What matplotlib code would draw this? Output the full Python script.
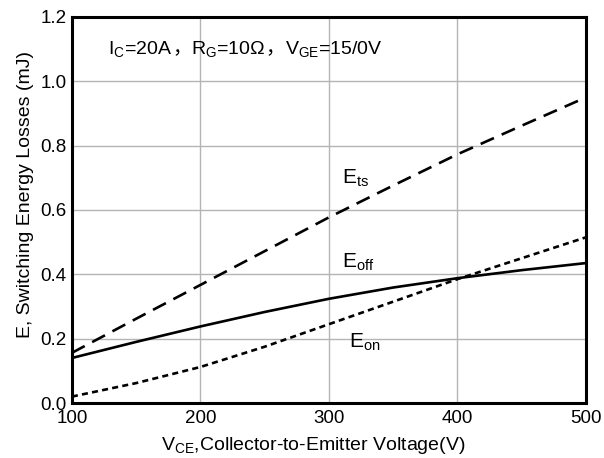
import matplotlib
matplotlib.use("Agg")
import matplotlib.pyplot as plt
import numpy as np
from matplotlib.offsetbox import TextArea, HPacker, AnnotationBbox

plt.rcParams['font.family'] = ['Liberation Sans', 'DejaVu Sans']
plt.rcParams['mathtext.fontset'] = 'custom'
plt.rcParams['mathtext.rm'] = 'Liberation Sans'

# values
vce = [100, 150, 200, 250, 300, 350, 400, 450, 500]
e_ts = [0.156, 0.262, 0.367, 0.472, 0.577, 0.676, 0.773, 0.862, 0.950]
e_off = [0.140, 0.190, 0.238, 0.283, 0.324, 0.359, 0.388, 0.413, 0.435]
e_on = [0.020, 0.062, 0.112, 0.175, 0.245, 0.315, 0.385, 0.450, 0.515]

xticks = [100, 200, 300, 400, 500]
yticks = [0.0, 0.2, 0.4, 0.6, 0.8, 1.0, 1.2]

fig = plt.figure(figsize=(6.04, 4.58), dpi=100)
ax = fig.add_axes([0.119, 0.120, 0.851, 0.843])

lw = 1.9
ax.plot(vce, e_ts, color='black', lw=lw, dashes=(5.5, 3.2))
ax.plot(vce, e_off, color='black', lw=lw)
ax.plot(vce, e_on, color='black', lw=lw, dashes=(2.3, 1.6))

ax.set_xlim(100, 500)
ax.set_ylim(0, 1.2)
ax.set_xticks(xticks)
ax.set_yticks(yticks)
ax.set_yticklabels(['%.1f' % v for v in yticks])
ax.grid(True, color='#b4b4b4', lw=1.0)
ax.tick_params(length=0, labelsize=13.5)
ax.tick_params(axis='x', pad=5)
ax.tick_params(axis='y', pad=4)
for s in ax.spines.values():
    s.set_linewidth(2.2)

ax.set_xlabel(r'V$_{\mathregular{CE}}$,Collector-to-Emitter Voltage(V)', fontsize=14)
ax.set_ylabel('E, Switching Energy Losses (mJ)', fontsize=14)
ax.xaxis.set_label_coords(0.469, -0.084)
ax.yaxis.set_label_coords(-0.074, 0.54)

ax.text(310, 0.684, r'E$_{\mathregular{ts}}$', fontsize=15, va='baseline')
ax.text(310, 0.423, r'E$_{\mathregular{off}}$', fontsize=15, va='baseline')
ax.text(316, 0.174, r'E$_{\mathregular{on}}$', fontsize=15, va='baseline')

# condition line, with full-width commas from a CJK font
tp = dict(fontsize=14, color='black')
cjk = dict(fontsize=14, color='black', family=['Noto Sans CJK SC', 'DejaVu Sans'])
parts = [
    TextArea(r'I$_{\mathregular{C}}$=20A', textprops=tp),
    TextArea('，', textprops=cjk),
    TextArea(r'R$_{\mathregular{G}}$=10Ω', textprops=tp),
    TextArea('，', textprops=cjk),
    TextArea(r'V$_{\mathregular{GE}}$=15/0V', textprops=tp),
]
box = HPacker(children=parts, align='baseline', pad=0, sep=0)
ab = AnnotationBbox(box, (128, 1.100), xycoords='data', box_alignment=(0, 0.5), frameon=False)
ax.add_artist(ab)

fig.savefig('out.png', dpi=100)
